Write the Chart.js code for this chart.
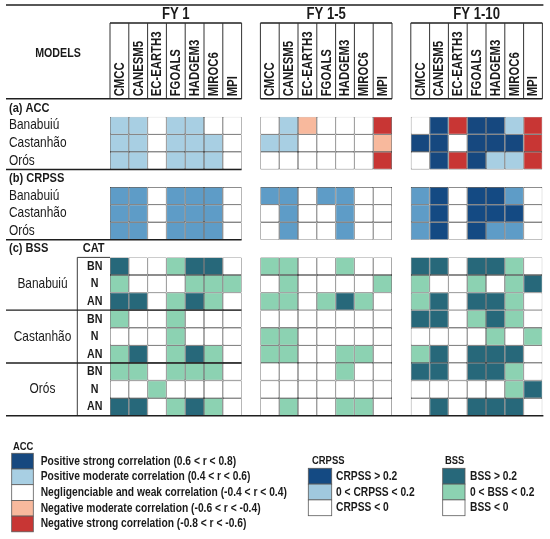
<!DOCTYPE html>
<html>
<head>
<meta charset="utf-8">
<script src="https://cdn.jsdelivr.net/npm/chart.js@4.4.1/dist/chart.umd.min.js"></script>
<style>
  html, body { margin: 0; padding: 0; background: #fff; }
  #wrap { width: 550px; height: 539px; position: relative; }
</style>
</head>
<body>
<div id="wrap"><canvas id="skillTable"></canvas></div>
<script>
// ---- data ----
var models = ['CMCC', 'CANESM5', 'EC-EARTH3', 'FGOALS', 'HADGEM3', 'MIROC6', 'MPI'];
var periods = ['FY 1', 'FY 1-5', 'FY 1-10'];
var reservoirs = ['Banabuiú', 'Castanhão', 'Orós'];
var bssCats = ['BN', 'N', 'AN'];

// ACC class: 2 strong +, 1 moderate +, 0 weak, -1 moderate -, -2 strong -
var accFY1 = [
    [1, 1, 0, 1, 1, 0, 0],
    [1, 1, 0, 1, 1, 1, 0],
    [1, 1, 0, 1, 1, 1, 0]
];
var accFY1_5 = [
    [0, 1, -1, 0, 0, 0, -2],
    [1, 1, 0, 0, 0, 0, -1],
    [0, 0, 0, 0, 0, 0, -2]
];
var accFY1_10 = [
    [0, 2, -2, 2, 2, 1, -2],
    [2, 2, 0, 2, 2, 2, -2],
    [0, 2, -2, 2, 1, 1, -2]
];

// CRPSS class: 2 > 0.2, 1 between 0 and 0.2, 0 below 0
var crpssFY1 = [
    [1, 1, 0, 1, 1, 1, 0],
    [1, 1, 0, 1, 1, 1, 0],
    [1, 1, 0, 1, 1, 1, 0]
];
var crpssFY1_5 = [
    [1, 1, 0, 1, 1, 0, 0],
    [0, 1, 0, 0, 1, 0, 0],
    [0, 1, 0, 0, 1, 0, 0]
];
var crpssFY1_10 = [
    [1, 2, 0, 2, 2, 1, 0],
    [1, 2, 0, 2, 2, 2, 0],
    [1, 2, 0, 2, 1, 1, 0]
];

// BSS class: 2 > 0.2, 1 between 0 and 0.2, 0 below 0
// rows: Banabuiú BN,N,AN / Castanhão BN,N,AN / Orós BN,N,AN
var bssFY1 = [
    [2, 0, 0, 1, 2, 2, 0],
    [1, 0, 0, 0, 1, 1, 1],
    [2, 2, 0, 1, 2, 1, 0],
    [1, 0, 0, 1, 0, 0, 0],
    [0, 0, 0, 1, 0, 0, 0],
    [1, 2, 0, 1, 2, 1, 0],
    [1, 1, 0, 1, 1, 1, 0],
    [0, 0, 1, 0, 0, 0, 0],
    [2, 2, 0, 1, 2, 1, 0]
];
var bssFY1_5 = [
    [1, 1, 0, 0, 1, 0, 0],
    [0, 1, 0, 0, 0, 0, 1],
    [1, 1, 0, 1, 2, 1, 0],
    [0, 0, 0, 0, 0, 0, 0],
    [1, 1, 0, 0, 0, 0, 0],
    [1, 1, 0, 0, 1, 1, 0],
    [0, 0, 0, 0, 1, 0, 0],
    [0, 0, 0, 0, 0, 0, 0],
    [0, 1, 0, 0, 1, 1, 0]
];
var bssFY1_10 = [
    [2, 2, 0, 2, 2, 1, 0],
    [1, 0, 0, 1, 0, 1, 2],
    [1, 2, 0, 2, 2, 1, 0],
    [2, 2, 0, 1, 2, 1, 0],
    [0, 0, 0, 0, 1, 0, 1],
    [1, 2, 0, 2, 2, 2, 0],
    [2, 2, 0, 2, 2, 1, 0],
    [0, 0, 0, 0, 0, 1, 2],
    [0, 2, 0, 2, 2, 2, 0]
];

var accLegend = ['Positive strong correlation (0.6 < r < 0.8)',
                 'Positive moderate correlation (0.4 < r < 0.6)',
                 'Negligenciable and weak correlation (-0.4 < r < 0.4)',
                 'Negative moderate correlation (-0.6 < r < -0.4)',
                 'Negative strong correlation (-0.8 < r < -0.6)'];
var accLegendClass = [2, 1, 0, -1, -2];
var crpssLegend = ['CRPSS > 0.2', '0 < CRPSS < 0.2', 'CRPSS < 0'];
var bssLegend = ['BSS > 0.2', '0 < BSS < 0.2', 'BSS < 0'];

// ---- colours ----
var accColors = { '2': '#16487f', '1': '#a8cfe3', '0': '#ffffff', '-1': '#f8b99d', '-2': '#c83634' };
var crpssColors = { '2': '#144a83', '1': '#5e9cc7', '0': '#ffffff' };
var crpssLegendColors = ['#144a83', '#a0c8de', '#ffffff'];
var bssColors = { '2': '#27687a', '1': '#8cd2b2', '0': '#ffffff' };

// ---- build one floating-bar dataset per table row ----
var labels = [];
periods.forEach(function (p, b) {
    models.forEach(function (m) { labels.push(m); });
    if (b < periods.length - 1) labels.push('');
});

function makeRow(blocks, r, yStart, colors) {
    var data = [], bg = [];
    blocks.forEach(function (block, b) {
        block[r].forEach(function (v) {
            data.push([yStart, yStart + 1]);
            bg.push(colors[String(v)]);
        });
        if (b < blocks.length - 1) { data.push(null); bg.push('#fff'); }
    });
    return {
        data: data,
        backgroundColor: bg,
        borderColor: '#363636',
        borderWidth: 0.65,
        borderSkipped: false,
        inflateAmount: 0,
        grouped: false,
        barPercentage: 1,
        categoryPercentage: 1
    };
}

var datasets = [];
for (var r = 0; r < 3; r++) datasets.push(makeRow([accFY1, accFY1_5, accFY1_10], r, r, accColors));
for (var r = 0; r < 3; r++) datasets.push(makeRow([crpssFY1, crpssFY1_5, crpssFY1_10], r, 4 + r, crpssColors));
for (var r = 0; r < 9; r++) datasets.push(makeRow([bssFY1, bssFY1_5, bssFY1_10], r, 8 + r, bssColors));

// ---- text helper (narrow font if available) ----
var NARROW = (function () {
    var c = document.createElement('canvas').getContext('2d');
    c.font = '40px "Liberation Sans Narrow", monospace';
    var a = c.measureText('MODELS abc').width;
    c.font = '40px monospace';
    var b = c.measureText('MODELS abc').width;
    return Math.abs(a - b) > 0.5;
})();

function txt(ctx, s, x, y, size, bold, align, rot) {
    ctx.save();
    ctx.translate(x, y);
    if (rot) ctx.rotate(rot);
    if (!NARROW) ctx.scale(0.82, 1);
    ctx.font = (bold ? 'bold ' : '') + size + 'px ' + (NARROW ? '"Liberation Sans Narrow"' : '"Liberation Sans"');
    ctx.textAlign = align || 'left';
    ctx.textBaseline = 'middle';
    ctx.fillStyle = '#1a1a1a';
    ctx.fillText(s, 0, 0);
    ctx.restore();
}

function line(ctx, x1, y1, x2, y2, w, col) {
    ctx.beginPath();
    ctx.lineWidth = w;
    ctx.strokeStyle = col || '#1f1f1f';
    ctx.moveTo(x1, y1);
    ctx.lineTo(x2, y2);
    ctx.stroke();
}

var tablePlugin = {
    id: 'tableDecor',
    afterDraw: function (chart) {
        var ctx = chart.ctx;
        var xs = chart.scales.x, ys = chart.scales.y;
        var band = xs.getPixelForValue(1) - xs.getPixelForValue(0);
        var colL = function (i) { return xs.getPixelForValue(i) - band / 2; };
        var blockL = function (b) { return colL(b * 8); };
        var blockR = function (b) { return colL(b * 8) + 7 * band; };
        var rowY = function (v) { return ys.getPixelForValue(v); };
        var leftX = 6, hTop = 23, hBot = 98.8;
        ctx.save();

        // top rule
        line(ctx, leftX, 5, blockR(2) + 1, 5, 1.6);

        // header
        txt(ctx, 'MODELS', 58, 53, 13, true, 'center');
        periods.forEach(function (p, b) {
            txt(ctx, p, (blockL(b) + blockR(b)) / 2, 15, 16, true, 'center');
            line(ctx, blockL(b), hTop, blockR(b), hTop, 1.3);
            for (var k = 0; k <= 7; k++) {
                var x = blockL(b) + k * band;
                line(ctx, x, hTop, x, hBot, 1, '#333333');
            }
            line(ctx, b === 0 ? leftX : blockL(b), hBot, blockR(b), hBot, 1.6);
            models.forEach(function (m, k) {
                txt(ctx, m, xs.getPixelForValue(b * 8 + k) + 0.5, hBot - 2.5, 13.8, true, 'left', -Math.PI / 2);
            });
        });

        // section labels
        txt(ctx, '(a) ACC', 9, (hBot + rowY(0)) / 2 + 0.5, 13.5, true);
        txt(ctx, '(b) CRPSS', 9, (rowY(3) + rowY(4)) / 2, 13.5, true);
        txt(ctx, '(c) BSS', 9, (rowY(7) + rowY(8)) / 2, 13.5, true);

        reservoirs.forEach(function (name, r) {
            txt(ctx, name, 9, rowY(r + 0.5), 14.5, false);
            txt(ctx, name, 9, rowY(4 + r + 0.5), 14.5, false);
            txt(ctx, name, 42.5, rowY(8 + r * 3 + 1.5), 14.5, false, 'center');
        });
        line(ctx, leftX, rowY(3), blockR(0), rowY(3), 1.4);
        line(ctx, leftX, rowY(7), blockR(0), rowY(7), 1.4);

        // CAT column
        var catL = 77.3, catR = colL(0);
        txt(ctx, 'CAT', (catL + catR) / 2, (rowY(7) + rowY(8)) / 2, 13.5, true, 'center');
        line(ctx, catL, rowY(8), catR, rowY(8), 1, '#3c3c3c');
        line(ctx, catL, rowY(8), catL, rowY(17), 1, '#3c3c3c');
        for (var k = 0; k < 9; k++) {
            txt(ctx, bssCats[k % 3], (catL + catR) / 2 + 1, rowY(8 + k + 0.5), 13, true, 'center');
        }
        line(ctx, leftX, rowY(11), blockR(0), rowY(11), 1.4);
        line(ctx, leftX, rowY(14), blockR(0), rowY(14), 1.4);
        line(ctx, leftX, rowY(17), blockR(2) + 1, rowY(17), 1.6);

        // legends
        function box(x, y, w, h, fill) {
            ctx.fillStyle = fill;
            ctx.fillRect(x, y, w, h);
            ctx.lineWidth = 0.8;
            ctx.strokeStyle = '#5a5a5a';
            ctx.strokeRect(x, y, w, h);
        }
        txt(ctx, 'ACC', 13, 446.7, 11.5, true);
        accLegend.forEach(function (s, i) {
            box(11.7, 453.3 + i * 15.7, 21.6, 15.7, accColors[String(accLegendClass[i])]);
            txt(ctx, s, 40.7, 461.2 + i * 15.7, 12.5, true);
        });
        txt(ctx, 'CRPSS', 312, 461, 11.5, true);
        crpssLegend.forEach(function (s, i) {
            box(308.3, 468.3 + i * 15.8, 23.4, 15.8, crpssLegendColors[i]);
            txt(ctx, s, 336, 476.3 + i * 15.8, 12.5, true);
        });
        txt(ctx, 'BSS', 445, 461, 11.5, true);
        bssLegend.forEach(function (s, i) {
            box(442.7, 468.3 + i * 15.8, 22.3, 15.8, bssColors[String(2 - i)]);
            txt(ctx, s, 470, 476.3 + i * 15.8, 12.5, true);
        });
        ctx.restore();
    }
};

var ctx = document.getElementById('skillTable');
var skillChart = new Chart(ctx, {
    type: 'bar',
    data: { labels: labels, datasets: datasets },
    options: {
        responsive: true,
        maintainAspectRatio: false,
        animation: false,
        layout: { padding: { left: 110, right: 7.6, top: 116.7, bottom: 123.3 } },
        scales: {
            x: { type: 'category', display: false, offset: true },
            y: { type: 'linear', display: false, min: 0, max: 17, reverse: true }
        },
        plugins: {
            legend: { display: false },
            tooltip: { enabled: false }
        }
    },
    plugins: [tablePlugin]
});
</script>
</body>
</html>
